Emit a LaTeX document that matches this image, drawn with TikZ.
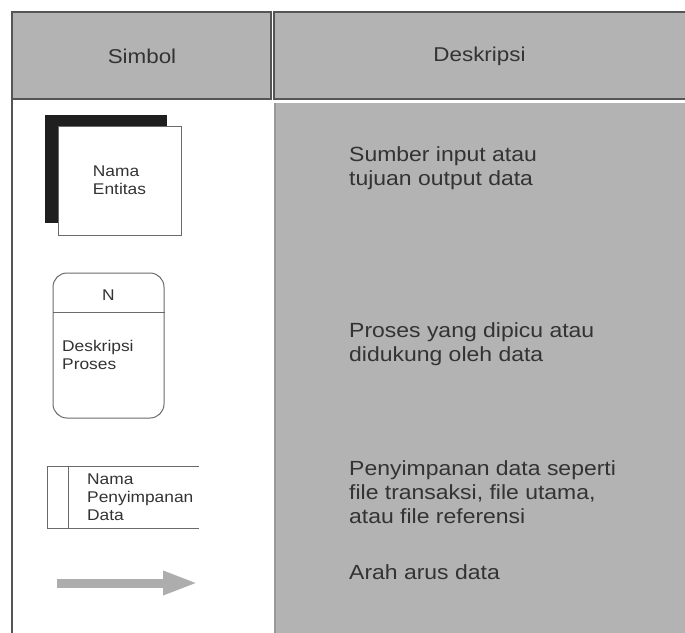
\documentclass[tikz,border=0pt]{standalone}
\usepackage{fontspec}
\setmainfont[FakeStretch=1.12]{Liberation Sans}
\usepackage{xcolor}
\usetikzlibrary{arrows.meta}
\definecolor{cellgray}{HTML}{B3B3B3}
\definecolor{rulegray}{HTML}{555555}
\definecolor{symline}{HTML}{6A6A6A}

\begin{document}
\begin{tikzpicture}[x=1pt, y=-1pt,
    headcell/.style={draw=rulegray, fill=cellgray, line width=1.2pt},
    headtext/.style={inner sep=0pt, text=black!80, font=\fontsize{20}{24}\selectfont},
    desc/.style={anchor=west, align=left, inner sep=0pt, text=black!80, font=\fontsize{20.5}{24}\selectfont},
    symtext/.style={align=left, inner sep=0pt, text=black!80, font=\fontsize{15.5}{18}\selectfont}]
  \useasboundingbox (0,0) rectangle (685,632);
  \clip (0,0) rectangle (685,632);

  % header row
  \draw[headcell] (12,12) rectangle (271,99);
  \draw[headcell] (274,12) rectangle (692,99);
  \node[headtext] (simbolhead) at (142,56) {Simbol};
  \node[headtext] (deskhead) at (479.5,56) {Deskripsi};

  % body
  \fill[cellgray] (274,103) rectangle (692,640);
  \draw[rulegray!60, line width=1.5pt] (275,103) -- (275,640);
  \draw[rulegray, line width=1.2pt] (12,99) -- (12,640);

  % symbols
  \fill[black!88] (45,115) rectangle (167,223);
  \node[draw=symline, fill=white, line width=0.8pt, minimum width=123pt, minimum height=109pt, symtext] (entitas) at (119.5,180.5) {Nama\\Entitas};

  \node[draw=symline, line width=1pt, rounded corners=14pt, minimum width=111pt, minimum height=145pt] (proses) at (108.5,345.5) {};
  \draw[symline, line width=1pt] (proses.west |- 0,312) -- (proses.east |- 0,312);
  \node[symtext] (nomor) at (108.5,295) {N};
  \node[symtext, anchor=west] (prosesnama) at (62,354.5) {Deskripsi\\Proses};

  \node[symtext, anchor=west] (store) at (87,497) {Nama\\Penyimpanan\\Data};
  \draw[symline, line width=1pt] (199,466) -- (47,466) -- (47,528) -- (199,528);
  \draw[symline, line width=1pt] (68,466) -- (68,528);

  \coordinate (arahA) at (57,583);
  \coordinate (arahB) at (198,583);
  \draw[line width=9pt, black!32, -{Triangle[length=35pt,width=22pt]}] (arahA) -- (arahB);

  % descriptions
  \node[desc] (descentitas) at (349,168) {Sumber input atau\\tujuan output data};
  \node[desc] (descproses) at (349,344) {Proses yang dipicu atau\\didukung oleh data};
  \node[desc] (descstore) at (349,492) {Penyimpanan data seperti\\file transaksi, file utama,\\atau file referensi};
  \node[desc] (descarah) at (349,572) {Arah arus data};
\end{tikzpicture}
\end{document}
